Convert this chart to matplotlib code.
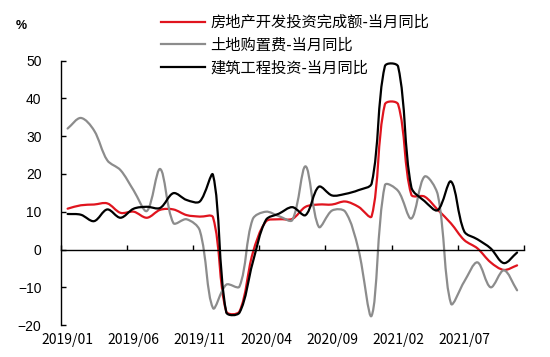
import numpy as np
import matplotlib
matplotlib.use("Agg")
import matplotlib.pyplot as plt
from matplotlib.path import Path
from matplotlib.patches import PathPatch
from matplotlib.lines import Line2D

plt.rcParams['font.family'] = ['Noto Sans CJK SC', 'DejaVu Sans']

# ---- data (monthly, 2019/01 .. 2021/11) ----
months = [f"{y}/{m:02d}" for y in (2019, 2020, 2021) for m in range(1, 13)][:35]
tick_labels = ["2019/01", "2019/06", "2019/11", "2020/04", "2020/09", "2021/02", "2021/07"]

series_names = ["房地产开发投资完成额-当月同比", "土地购置费-当月同比", "建筑工程投资-当月同比"]

invest_total = [10.8, 11.7, 11.9, 12.2, 9.7, 10.0, 8.4, 10.5, 10.6, 9.1, 8.7, 8.5,
                -16.4, -16.4, -1.0, 7.4, 8.0, 8.1, 11.3, 11.9, 11.9, 12.7, 11.3, 8.8,
                38.4, 38.4, 14.5, 14.0, 10.5, 6.9, 2.5, 0.3, -3.4, -5.4, -4.2]
land_cost = [32.0, 34.8, 31.5, 23.6, 21.0, 15.6, 10.2, 21.3, 7.0, 8.0, 5.0, -15.5,
             -9.3, -9.8, 8.0, 10.0, 8.8, 7.8, 22.0, 6.0, 10.3, 10.0, 0.0, -17.5,
             17.0, 15.5, 8.2, 19.3, 14.5, -14.3, -8.5, -3.4, -10.0, -5.5, -10.8]
construction = [9.4, 9.2, 7.5, 10.6, 8.4, 10.8, 11.3, 11.0, 14.9, 13.1, 12.7, 19.7,
                -16.6, -16.7, -3.5, 7.8, 9.5, 11.2, 9.1, 16.6, 14.3, 14.7, 15.7, 17.5,
                48.5, 48.4, 16.5, 12.8, 10.4, 18.0, 4.8, 2.7, 0.3, -3.6, -0.8]

colors = ["#E0141E", "#8C8C8C", "#000000"]
yticks = [-20, -10, 0, 10, 20, 30, 40, 50]

W, H = 550, 357
fig = plt.figure(figsize=(W / 100, H / 100), dpi=100)
ax_box = [61 / W, 1 - 325.1 / H, (523.7 - 61) / W, (325.1 - 60.5) / H]
ax = fig.add_axes(ax_box)
xlim = (-0.5, len(months) - 0.5)
ylim = (-20, 50)
ax.set_xlim(*xlim)
ax.set_ylim(*ylim)

# pixel scale of data units (for Excel-like smoothing weights)
sx = ax_box[2] * W / (xlim[1] - xlim[0])
sy = ax_box[3] * H / (ylim[1] - ylim[0])


def smooth_path(xs, ys):
    """Excel-style smoothed line: cubic Bezier through the points,
    tangent lengths weighted by on-screen segment lengths."""
    pts = np.column_stack([xs, ys]).astype(float)
    n = len(pts)
    scale = np.array([sx, sy])

    def dist(a, b):
        return float(np.hypot(*((a - b) * scale)))

    verts = [pts[0]]
    codes = [Path.MOVETO]
    for k in range(n - 1):
        p0 = pts[k - 1] if k > 0 else pts[k]
        p1 = pts[k]
        p2 = pts[k + 1]
        p3 = pts[k + 2] if k + 2 < n else pts[k + 1]
        d01, d12, d23 = dist(p0, p1), dist(p1, p2), dist(p2, p3)
        f1 = d12 / (d01 + d12) if (d01 + d12) > 0 else 0.5
        f2 = d12 / (d12 + d23) if (d12 + d23) > 0 else 0.5
        c1 = p1 + (p2 - p0) * f1 / 3.0
        c2 = p2 - (p3 - p1) * f2 / 3.0
        verts += [c1, c2, p2]
        codes += [Path.CURVE4] * 3
    return Path(np.array(verts), codes)


x = np.arange(len(months))
handles = []
for name, vals, col in [(series_names[0], invest_total, colors[0]),
                        (series_names[1], land_cost, colors[1]),
                        (series_names[2], construction, colors[2])]:
    patch = PathPatch(smooth_path(x, vals), fill=False, edgecolor=col, lw=1.6,
                      transform=ax.transData, capstyle='round', joinstyle='round')
    ax.add_patch(patch)
    handles.append(Line2D([], [], color=col, lw=1.6, label=name))

ax.set_xlim(*xlim)
ax.set_ylim(*ylim)

# spines
for s in ['top', 'right']:
    ax.spines[s].set_visible(False)
ax.spines['left'].set_linewidth(1.0)
ax.spines['bottom'].set_position(('data', 0))
ax.spines['bottom'].set_linewidth(1.0)

# x ticks on zero line (category boundaries)
ax.set_xticks(np.arange(-0.5, len(months), 5))
ax.tick_params(axis='x', direction='in', length=3.5, width=1.0, labelbottom=False)

# y ticks
ax.set_yticks(yticks)
ax.set_yticklabels([str(v).replace('-', '\u2212') for v in yticks], family='Liberation Sans', fontsize=10)
ax.tick_params(axis='y', direction='in', length=3.5, width=1.0, pad=14)

# category labels at bottom
sec = ax.secondary_xaxis('bottom')
sec.set_xticks([months.index(t) for t in tick_labels])
sec.set_xticklabels(tick_labels, fontsize=10)
sec.tick_params(length=0, pad=6)
sec.spines['bottom'].set_visible(False)

fig.text(21.5 / W, 1 - 26 / H, "%", ha='center', va='center', fontsize=9, fontweight='bold',
         family='Liberation Sans')

leg = fig.legend(handles=handles, loc='upper left', bbox_to_anchor=(161 / W, 1 - 14 / H),
                 frameon=False, fontsize=11, handlelength=2.9, handletextpad=0.35,
                 labelspacing=0.38, borderpad=0, borderaxespad=0)

fig.savefig("out.png", dpi=100)
